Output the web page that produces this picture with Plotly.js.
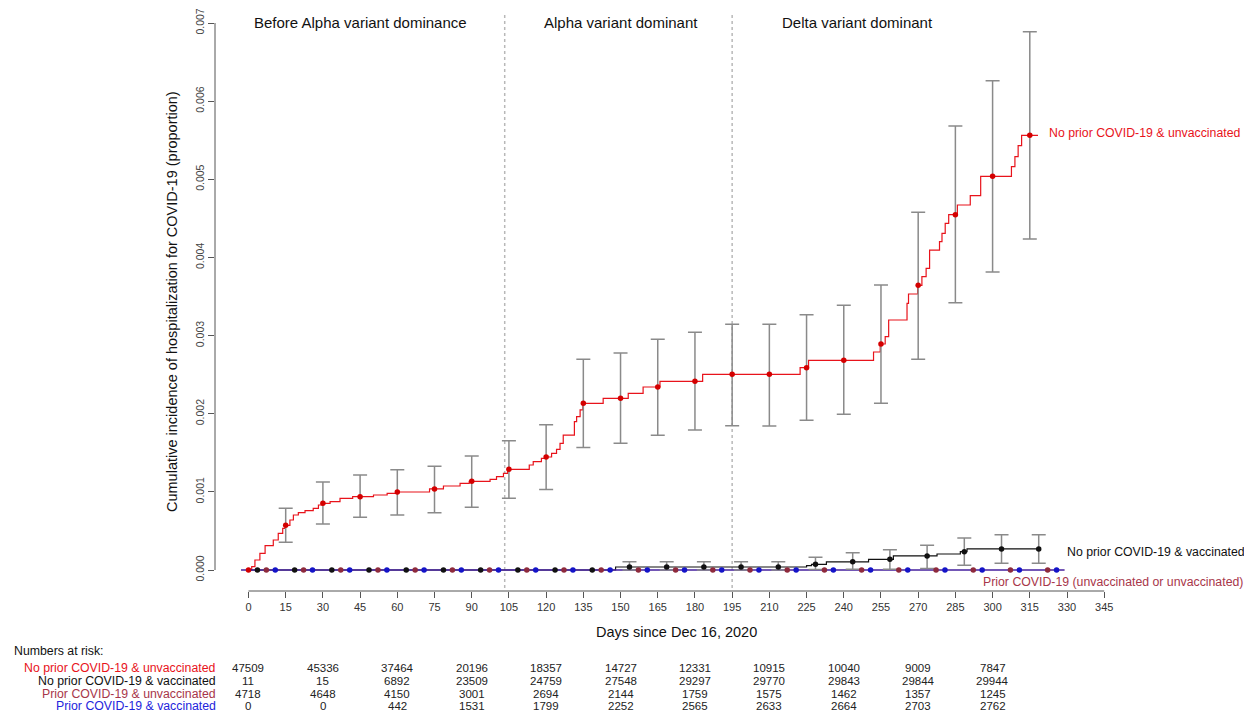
<!DOCTYPE html>
<html>
<head>
<meta charset="utf-8">
<script src="https://cdn.plot.ly/plotly-3.0.1.min.js"></script>
<style>
html,body{margin:0;padding:0;background:#fff;}
#chart{width:1244px;height:713px;}
</style>
</head>
<body>
<div id="chart"></div>
<script>
// ---------- DATA ----------
// No prior COVID-19 & unvaccinated: step curve
const redStepDays = [0,1.3,2.6,4.6,6.7,10,12,13.8,14.8,16.7,18.1,20.1,22.8,26.1,28.2,29.8,32.9,36.9,42,50.4,55.9,59.5,73,78.6,85.3,89,97.4,100,102.8,104.5,113.2,114.8,118.1,119.5,122.2,124.2,125.6,126.9,131.4,132.3,133.7,134.8,143,153.1,159.1,165.9,183.1,222.4,225.8,252,254.7,256.7,258.1,265.5,266.1,269.8,271.5,273.2,274.6,278.6,279.6,280.9,282.3,285.8,291,295.2,307.6,309,310.3,311.7,318.3];
const redStepVals = [0,0.000043,0.000128,0.000213,0.000311,0.000384,0.000469,0.000533,0.000572,0.00064,0.000704,0.000734,0.000759,0.000789,0.000832,0.000853,0.000874,0.000917,0.000938,0.00096,0.000981,0.000998,0.001037,0.001075,0.001109,0.001135,0.00116,0.001194,0.001237,0.001288,0.001344,0.001386,0.001429,0.001446,0.001493,0.001544,0.00162,0.001727,0.001898,0.001962,0.002048,0.002133,0.002197,0.00226,0.002342,0.002415,0.002504,0.002589,0.002683,0.00279,0.002892,0.002986,0.003199,0.003412,0.003532,0.003643,0.003754,0.00386,0.004094,0.004201,0.004308,0.004436,0.004547,0.004671,0.00479,0.005038,0.005162,0.00529,0.005431,0.005563,0.005563];
const redDotDays = [0,15,30,45,60,75,90,105,120,135,150,165,180,195,210,225,240,255,270,285,300,315];
const redDotVals = [0,0.000572,0.000853,0.000938,0.000998,0.001037,0.001135,0.001288,0.001446,0.002133,0.002197,0.002342,0.002415,0.002504,0.002504,0.002589,0.002683,0.002892,0.003643,0.004547,0.005038,0.005563];
const redUpper = [null,0.00079,0.001126,0.001216,0.001284,0.001327,0.001459,0.001655,0.001858,0.002696,0.002777,0.002952,0.003042,0.003144,0.003144,0.003267,0.003387,0.003647,0.004577,0.005682,0.006261,0.006889];
const redLower = [null,0.000354,0.000589,0.000674,0.000704,0.000734,0.000802,0.000917,0.00103,0.001568,0.001623,0.001724,0.001792,0.001847,0.001843,0.001916,0.001992,0.002133,0.002696,0.003421,0.003814,0.004236];

// No prior COVID-19 & vaccinated
const blkStepDays = [0,148,225,227,233,250,260,277.6,287,289.7,318.6];
const blkStepVals = [0,0.0000384,0.000055,0.000073,0.000104,0.000137,0.00018,0.000205,0.000235,0.00027,0.00027];
const blkDotDays = [3.6,18.6,33.6,48.6,63.6,78.6,93.6,108.6,123.6,138.6,153.6,168.6,183.6,198.6,213.6,228.6,243.6,258.6,273.6,288.6,303.6,318.6];
const blkDotVals = [0,0,0,0,0,0,0,0,0,0,0.0000384,0.0000384,0.0000384,0.0000384,0.0000384,0.000073,0.000104,0.000137,0.00018,0.000235,0.00027,0.00027];
const blkUpper = [null,null,null,null,null,null,null,null,null,null,0.000107,0.000107,0.000107,0.000107,0.000107,0.000162,0.00022,0.00026,0.000316,0.000409,0.000452,0.000452];
const blkLower = [null,null,null,null,null,null,null,null,null,null,0,0,0,0,0,0.000005,0.00001,0.00001,0.00002,0.00006,0.000085,0.000085];

// Prior COVID-19 & unvaccinated
const pruStepDays = [-3,329];
const pruStepVals = [0,0];
const pruDotDays = [7.2,22.2,37.2,52.2,67.2,82.2,97.2,112.2,127.2,142.2,157.2,172.2,187.2,202.2,217.2,232.2,247.2,262.2,277.2,292.2,307.2,322.2];
const pruDotVals = pruDotDays.map(() => 0);

// Prior COVID-19 & vaccinated
const prvStepDays = [-3,329];
const prvStepVals = [0,0];
const prvDotDays = [10.8,25.8,40.8,55.8,70.8,85.8,100.8,115.8,130.8,145.8,160.8,175.8,190.8,205.8,220.8,235.8,250.8,265.8,280.8,295.8,310.8,325.8];
const prvDotVals = prvDotDays.map(() => 0);

// Variant periods
const periodBounds = [103.3, 195];
const periodLabels = ["Before Alpha variant dominance","Alpha variant dominant","Delta variant dominant"];
const periodLabelDays = [45, 150.2, 245.5];

// Axis ticks
const xTicks = [0,15,30,45,60,75,90,105,120,135,150,165,180,195,210,225,240,255,270,285,300,315,330,345];
const yTicks = [0,0.001,0.002,0.003,0.004,0.005,0.006,0.007];

// Numbers at risk
const riskDays = [0,30,60,90,120,150,180,210,240,270,300];
const riskGroups = ["No prior COVID-19 & unvaccinated","No prior COVID-19 & vaccinated","Prior COVID-19 & unvaccinated","Prior COVID-19 & vaccinated"];
const riskNoPriorUnvax = [47509,45336,37464,20196,18357,14727,12331,10915,10040,9009,7847];
const riskNoPriorVax = [11,15,6892,23509,24759,27548,29297,29770,29843,29844,29944];
const riskPriorUnvax = [4718,4648,4150,3001,2694,2144,1759,1575,1462,1357,1245];
const riskPriorVax = [0,0,442,1531,1799,2252,2565,2633,2664,2703,2762];

// Right-side curve labels
const curveLabels = ["No prior COVID-19 & unvaccinated","No prior COVID-19 & vaccinated","Prior COVID-19 (unvaccinated or unvaccinated)"];

// ---------- STYLE ----------
const RED = '#e8131b', RED_DOT = '#d40000';
const BLK = '#111111';
const BROWN = '#a8364a', BROWN_DOT = '#8e2a3c';
const BLUE = '#1414c8', BLUE_TXT = '#2424dc';
const ERR = '#8a8a8a';
const FONT = 'Liberation Sans, Arial, sans-serif';

// plot geometry (pixels)
const L = 215, R = 114, T = 10, B = 122;
const W = 1244, H = 713;
const plotH = H - T - B, plotW = W - L - R;
const py = (pix) => (H - B - pix) / plotH;   // pixel y -> paper y
const px = (pix) => (pix - L) / plotW;       // pixel x -> paper x

function withCI(days, vals, up, lo) {
  const d = [], v = [], p = [], m = [];
  for (let i = 0; i < days.length; i++) {
    if (up[i] === null) continue;
    d.push(days[i]); v.push(vals[i]);
    p.push(up[i] - vals[i]); m.push(vals[i] - lo[i]);
  }
  return {d, v, p, m};
}
const redCI = withCI(redDotDays, redDotVals, redUpper, redLower);
const blkCI = withCI(blkDotDays, blkDotVals, blkUpper, blkLower);

const traces = [
  {x: redStepDays, y: redStepVals, mode: 'lines', line: {shape: 'hv', color: RED, width: 1.2}, hoverinfo: 'skip'},
  {x: blkStepDays, y: blkStepVals, mode: 'lines', line: {shape: 'hv', color: BLK, width: 1.2}, hoverinfo: 'skip'},
  {x: pruStepDays, y: pruStepVals, mode: 'lines', line: {shape: 'hv', color: BROWN, width: 1.2}, hoverinfo: 'skip'},
  {x: prvStepDays, y: prvStepVals, mode: 'lines', line: {shape: 'hv', color: BLUE, width: 1.2}, hoverinfo: 'skip'},
  {x: redCI.d, y: redCI.v, mode: 'markers', marker: {size: 0.1, color: 'rgba(0,0,0,0)'},
   error_y: {type: 'data', symmetric: false, array: redCI.p, arrayminus: redCI.m, color: ERR, thickness: 1.5, width: 7}},
  {x: blkCI.d, y: blkCI.v, mode: 'markers', marker: {size: 0.1, color: 'rgba(0,0,0,0)'},
   error_y: {type: 'data', symmetric: false, array: blkCI.p, arrayminus: blkCI.m, color: ERR, thickness: 1.5, width: 7}},
  {x: pruDotDays, y: pruDotVals, mode: 'markers', marker: {size: 5.5, color: BROWN_DOT}, cliponaxis: false},
  {x: prvDotDays, y: prvDotVals, mode: 'markers', marker: {size: 5.5, color: BLUE}, cliponaxis: false},
  {x: blkDotDays, y: blkDotVals, mode: 'markers', marker: {size: 5.5, color: BLK}, cliponaxis: false},
  {x: redDotDays, y: redDotVals, mode: 'markers', marker: {size: 5.5, color: RED_DOT}, cliponaxis: false}
];

const shapes = [
  // R-style axis lines spanning only the tick range
  {type: 'line', xref: 'x', yref: 'paper', x0: xTicks[0], x1: xTicks[xTicks.length-1], y0: 0, y1: 0, line: {color: '#555', width: 1}},
  {type: 'line', xref: 'paper', yref: 'y', x0: 0, x1: 0, y0: yTicks[0], y1: yTicks[yTicks.length-1], line: {color: '#555', width: 1}}
];
periodBounds.forEach(d => shapes.push({type: 'line', xref: 'x', yref: 'paper', x0: d, x1: d, y0: py(588), y1: py(12),
  line: {color: '#b8b8b8', width: 1.5, dash: 'dot'}, layer: 'below'}));

const annotations = [];
const ann = (o) => annotations.push(Object.assign({showarrow: false, xanchor: 'center', yanchor: 'middle'}, o));
periodLabels.forEach((t, i) => ann({x: periodLabelDays[i], y: py(22), xref: 'x', yref: 'paper', text: t,
  font: {family: FONT, size: 15, color: '#111'}}));
ann({x: px(172), y: py(302), xref: 'paper', yref: 'paper', textangle: -90,
  text: 'Cumulative incidence of hospitalization for COVID-19 (proportion)', font: {family: FONT, size: 14.5, color: '#111'}});
ann({x: px(676), y: py(632), xref: 'paper', yref: 'paper',
  text: 'Days since Dec 16, 2020', font: {family: FONT, size: 14.5, color: '#111'}});
// right-side labels
ann({x: 322, y: 0.005592, xref: 'x', yref: 'y', xanchor: 'left', text: curveLabels[0], font: {family: FONT, size: 12.3, color: RED}});
ann({x: 329.3, y: 0.00023, xref: 'x', yref: 'y', xanchor: 'left', text: curveLabels[1], font: {family: FONT, size: 12.3, color: BLK}});
ann({x: 295.4, y: -0.000154, xref: 'x', yref: 'y', xanchor: 'left', text: curveLabels[2], font: {family: FONT, size: 12.3, color: BROWN}});
// numbers at risk
ann({x: px(12), y: py(651), xref: 'paper', yref: 'paper', xanchor: 'left', text: 'Numbers at risk:', font: {family: FONT, size: 12.3, color: '#111'}});
const riskRows = [riskNoPriorUnvax, riskNoPriorVax, riskPriorUnvax, riskPriorVax];
const riskColors = [RED, BLK, BROWN, BLUE_TXT];
const rowY = [668, 681, 693.5, 706];
riskGroups.forEach((g, r) => {
  ann({x: px(218), y: py(rowY[r]), xref: 'paper', yref: 'paper', xanchor: 'right', text: g,
    font: {family: FONT, size: 12.3, color: riskColors[r]}});
  riskRows[r].forEach((n, i) => ann({x: riskDays[i], y: py(rowY[r]), xref: 'x', yref: 'paper',
    text: String(n), font: {family: FONT, size: 11.5, color: '#222'}}));
});

const yMin = -21 / 78142, yMax = 0.007 + 13 / 78142;
const layout = {
  width: W, height: H,
  margin: {l: L, r: R, t: T, b: B},
  paper_bgcolor: '#fff', plot_bgcolor: '#fff',
  showlegend: false,
  xaxis: {range: [-13.5, 355.4], tickvals: xTicks, ticktext: xTicks.map(String), ticks: 'outside', ticklen: 6, tickcolor: '#555',
    showgrid: false, zeroline: false, showline: false, tickfont: {family: FONT, size: 11, color: '#333'}},
  yaxis: {range: [yMin, yMax], tickvals: yTicks, ticktext: yTicks.map(v => v.toFixed(3)), ticks: 'outside', ticklen: 6, tickcolor: '#555',
    tickangle: -90, showgrid: false, zeroline: false, showline: false, tickfont: {family: FONT, size: 10.5, color: '#444'}},
  shapes: shapes,
  annotations: annotations
};

Plotly.newPlot('chart', traces, layout, {staticPlot: true, displayModeBar: false});
</script>
</body>
</html>
